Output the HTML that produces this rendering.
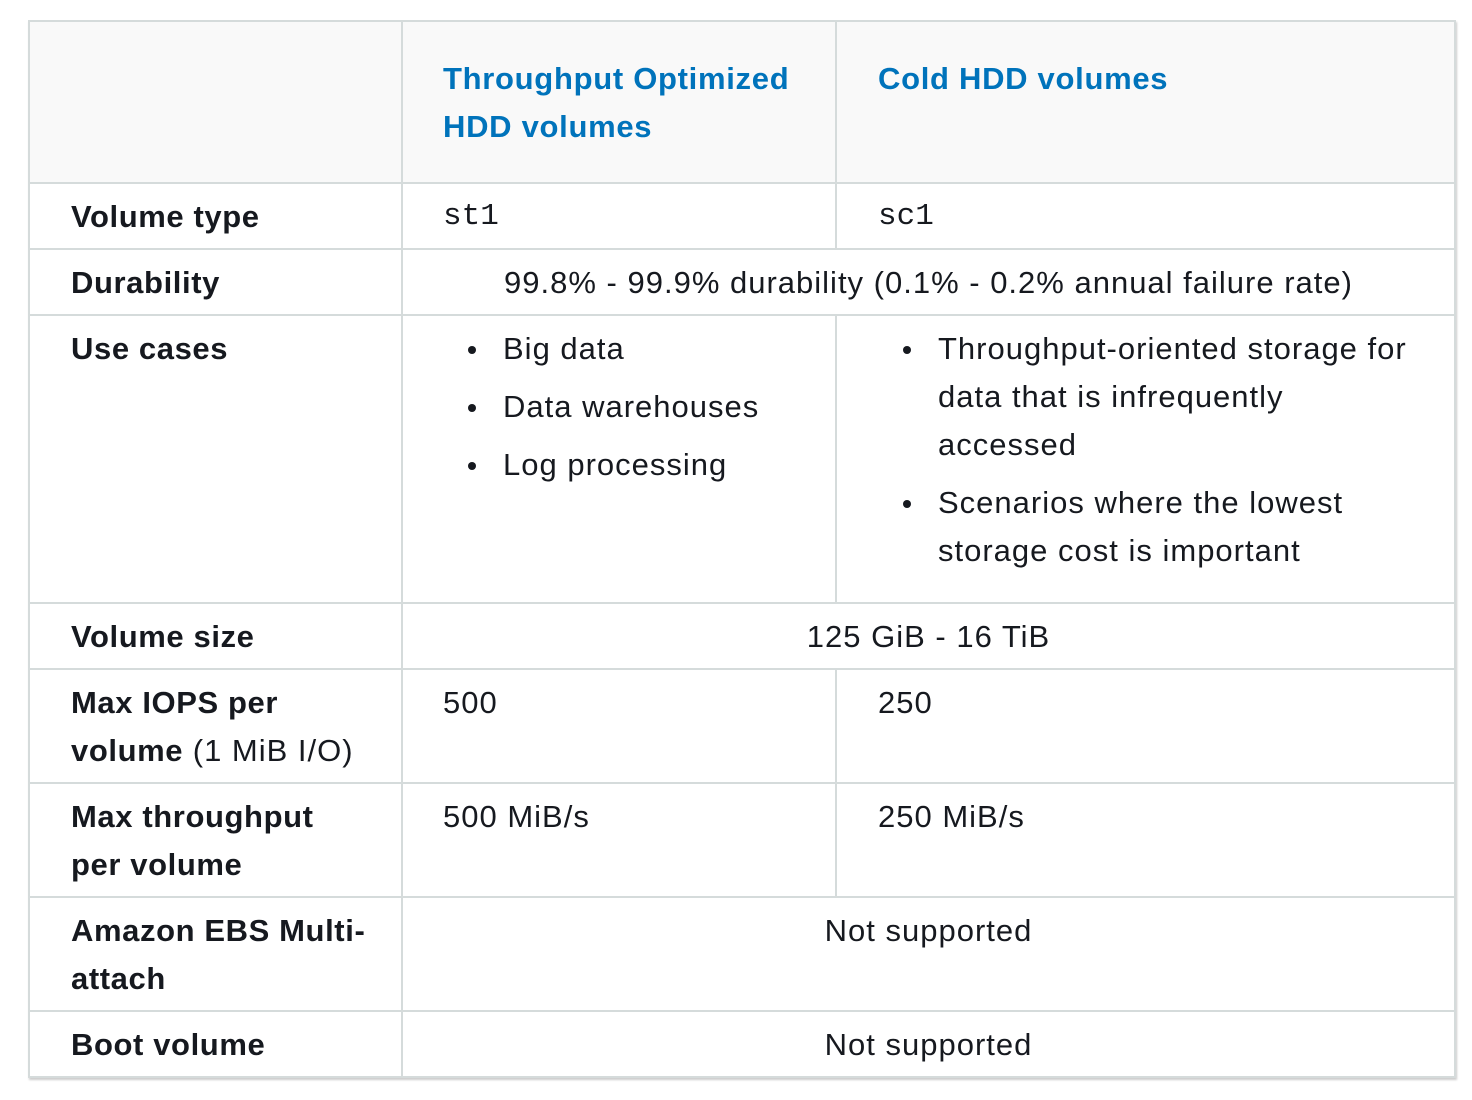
<!DOCTYPE html>
<html><head><meta charset="utf-8"><style>
body{margin:0;width:1472px;height:1100px;background:#fff;position:relative;font-family:"Liberation Sans",sans-serif;color:#16191f;overflow:hidden}
.t{position:absolute;font-size:31px;line-height:48px;white-space:nowrap;letter-spacing:1px}
.b{font-weight:bold;letter-spacing:0.6px}
.h{color:#0073bb;font-weight:bold;letter-spacing:0.7px}
.m{font-family:"Liberation Mono",monospace;letter-spacing:0}
ul{margin:0;padding:0;list-style:none}
li{position:relative}
li:before{content:"";position:absolute;left:-35px;top:21px;width:8px;height:8px;border-radius:50%;background:#16191f}
</style></head><body>
<div style="position:absolute;left:28px;top:20px;width:1428px;height:1058px;border:2px solid #d5dbdb;box-sizing:border-box;box-shadow:1px 2px 2px rgba(0,0,0,0.2)"></div>
<div style="position:absolute;left:30px;top:22px;width:1424px;height:161px;background:#f9f9f9"></div>
<div style="position:absolute;left:30px;width:1424px;top:182px;height:2px;background:#d5dbdb"></div>
<div style="position:absolute;left:30px;width:1424px;top:248px;height:2px;background:#d5dbdb"></div>
<div style="position:absolute;left:30px;width:1424px;top:314px;height:2px;background:#d5dbdb"></div>
<div style="position:absolute;left:30px;width:1424px;top:602px;height:2px;background:#d5dbdb"></div>
<div style="position:absolute;left:30px;width:1424px;top:668px;height:2px;background:#d5dbdb"></div>
<div style="position:absolute;left:30px;width:1424px;top:782px;height:2px;background:#d5dbdb"></div>
<div style="position:absolute;left:30px;width:1424px;top:896px;height:2px;background:#d5dbdb"></div>
<div style="position:absolute;left:30px;width:1424px;top:1010px;height:2px;background:#d5dbdb"></div>
<div style="position:absolute;left:401px;top:22px;width:2px;height:1054px;background:#d5dbdb"></div>
<div style="position:absolute;left:835px;top:22px;width:2px;height:227px;background:#d5dbdb"></div>
<div style="position:absolute;left:835px;top:315px;width:2px;height:288px;background:#d5dbdb"></div>
<div style="position:absolute;left:835px;top:669px;width:2px;height:228px;background:#d5dbdb"></div>

<div class="t h" style="left:443px;top:55px">Throughput Optimized<br>HDD volumes</div>
<div class="t h" style="left:878px;top:55px">Cold HDD volumes</div>

<div class="t b" style="left:71px;top:193px">Volume type</div>
<div class="t m" style="left:443px;top:193px">st1</div>
<div class="t m" style="left:878px;top:193px">sc1</div>

<div class="t b" style="left:71px;top:259px">Durability</div>
<div class="t" style="left:403px;width:1051px;text-align:center;top:259px">99.8% - 99.9% durability (0.1% - 0.2% annual failure rate)</div>

<div class="t b" style="left:71px;top:325px">Use cases</div>
<ul class="t" style="left:503px;top:325px;line-height:48px">
<li style="margin-bottom:10px">Big data</li><li style="margin-bottom:10px">Data warehouses</li><li>Log processing</li></ul>
<ul class="t" style="left:938px;top:325px;line-height:48px">
<li style="margin-bottom:10px">Throughput-oriented storage for<br>data that is infrequently<br>accessed</li><li>Scenarios where the lowest<br>storage cost is important</li></ul>

<div class="t b" style="left:71px;top:613px">Volume size</div>
<div class="t" style="left:403px;width:1051px;text-align:center;top:613px">125 GiB - 16 TiB</div>

<div class="t" style="left:71px;top:679px"><b style="letter-spacing:0.6px">Max IOPS per<br>volume</b> (1 MiB I/O)</div>
<div class="t" style="left:443px;top:679px">500</div>
<div class="t" style="left:878px;top:679px">250</div>

<div class="t b" style="left:71px;top:793px">Max throughput<br>per volume</div>
<div class="t" style="left:443px;top:793px">500 MiB/s</div>
<div class="t" style="left:878px;top:793px">250 MiB/s</div>

<div class="t b" style="left:71px;top:907px">Amazon EBS Multi-<br>attach</div>
<div class="t" style="left:403px;width:1051px;text-align:center;top:907px">Not supported</div>

<div class="t b" style="left:71px;top:1021px">Boot volume</div>
<div class="t" style="left:403px;width:1051px;text-align:center;top:1021px">Not supported</div>
</body></html>
